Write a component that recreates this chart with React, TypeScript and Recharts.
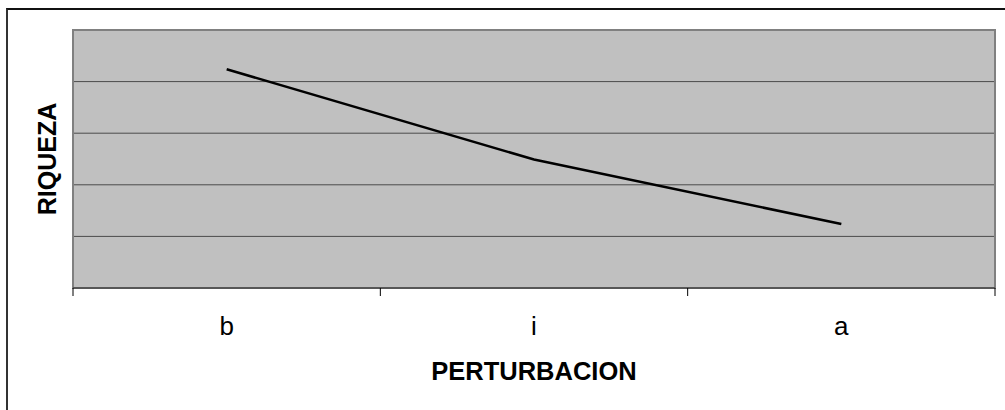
import { LineChart, Line, XAxis, YAxis, CartesianGrid, ReferenceArea } from "recharts";

const categories = ["b", "i", "a"];
const riqueza = [4.24, 2.49, 1.24];
const yTicks = [0, 1, 2, 3, 4, 5];
const xTicks = [-0.5, 0, 0.5, 1, 1.5, 2, 2.5];

const data = categories.map((c, i) => ({ idx: i, name: c, riqueza: riqueza[i] }));

const FONT = '"Liberation Sans", Arial, sans-serif';

function CategoryTick({ x, y, payload }: any) {
  const v = payload.value;
  if (!Number.isInteger(v)) {
    // tick marks sit between categories, like the old spreadsheet style
    return <line x1={x} x2={x} y1={y - 8} y2={y} stroke="#000" strokeWidth={1} />;
  }
  return (
    <text x={x} y={y + 39} textAnchor="middle" fontFamily={FONT} fontSize={26} fill="#000">
      {categories[v]}
    </text>
  );
}

export default function App() {
  return (
    <div style={{ position: "absolute", left: 0, top: 0, width: 1005, height: 410, overflow: "hidden", background: "#fff" }}>
      <div
        style={{
          position: "absolute",
          left: 6,
          top: 8,
          width: 1010,
          height: 410,
          borderTop: "2px solid #111",
          borderLeft: "2px solid #333",
        }}
      />
      <LineChart
        width={1005}
        height={410}
        data={data}
        margin={{ top: 30, right: 10, left: 21, bottom: 0 }}
        style={{ position: "absolute", left: 0, top: 0 }}
      >
        <CartesianGrid vertical={false} fill="#C0C0C0" stroke="#4a4a4a" />
        <ReferenceArea x1={-0.5} x2={2.5} y1={0} y2={5} fill="none" stroke="#808080" strokeWidth={2} />
        <XAxis
          dataKey="idx"
          type="number"
          domain={[-0.5, 2.5]}
          ticks={xTicks}
          interval={0}
          height={122}
          tickSize={8}
          tickMargin={0}
          tickLine={false}
          tick={<CategoryTick />}
          axisLine={{ stroke: "#4a4a4a", strokeWidth: 1.5 }}
          label={{
            value: "PERTURBACION",
            position: "insideBottom",
            offset: 30,
            style: { fontFamily: FONT, fontSize: 25.5, fontWeight: 700, fill: "#000" },
          }}
        />
        <YAxis
          domain={[0, 5]}
          ticks={yTicks}
          interval={0}
          width={52}
          tick={() => <g />}
          tickLine={false}
          axisLine={false}
          label={{
            value: "RIQUEZA",
            angle: -90,
            position: "center",
            style: { fontFamily: FONT, fontSize: 25, fontWeight: 700, fill: "#000" },
          }}
        />
        <Line
          dataKey="riqueza"
          stroke="#000"
          strokeWidth={2.5}
          dot={false}
          activeDot={false}
          isAnimationActive={false}
        />
      </LineChart>
    </div>
  );
}
